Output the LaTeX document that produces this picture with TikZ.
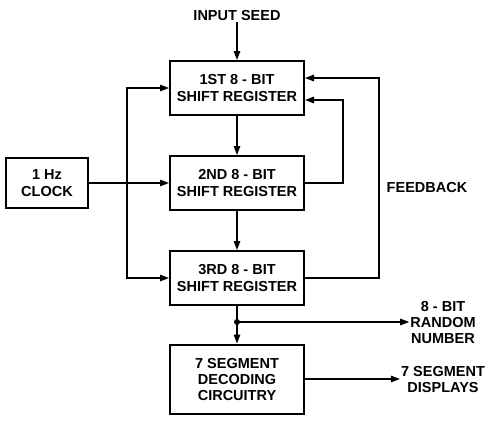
\documentclass[tikz,border=0pt]{standalone}
\usepackage{fontspec}
\setmainfont{Liberation Sans}
\usetikzlibrary{arrows.meta}

\begin{document}
\begin{tikzpicture}[x=1pt, y=-1pt,
                        every node/.style={font=\fontsize{14.5}{17}\selectfont\bfseries, align=center},
                        block/.style={draw, line width=2pt, minimum width=134pt, minimum height=54pt, inner sep=0pt},
                        label/.style={inner sep=1pt},
                        wire/.style={line width=1.3pt},
                        >={Triangle[length=9pt, width=6.5pt]}]
                        \useasboundingbox (0,0) rectangle (489,421);

                        \node[label] (seed) at (237,16) {INPUT SEED};
                        \node[block] (reg1) at (237,88) {1ST 8 - BIT\\SHIFT REGISTER};
                        \node[block] (reg2) at (237,183) {2ND 8 - BIT\\SHIFT REGISTER};
                        \node[block] (reg3) at (237,278) {3RD 8 - BIT\\SHIFT REGISTER};
                        \node[block, minimum width=82pt, minimum height=50pt] (clock) at (47,183) {1 Hz\\CLOCK};
                        \node[block, minimum height=69pt, font=\fontsize{14.5}{16}\selectfont\bfseries] (decode) at (237,379) {7 SEGMENT\\DECODING\\CIRCUITRY};

                        \node[label] (feedback) at (427,188) {FEEDBACK};
                        \node[label, font=\fontsize{14.5}{16}\selectfont\bfseries] (random) at (443,322) {8 - BIT\\RANDOM\\NUMBER};
                        \node[label, font=\fontsize{14.5}{16}\selectfont\bfseries] (displays) at (443,379) {7 SEGMENT\\DISPLAYS};

                        \coordinate (split) at (127,183);
                        \coordinate (tap) at (237,322);

                        \foreach \u/\v in {%
                            seed/reg1,
                            reg1/reg2,
                            reg2/reg3,
                            clock/reg2,
                            reg3/decode,
                            decode/displays%
                            }{
                            \draw[wire] (\u) edge[->] (\v);
                        }

                        \draw[wire, ->] (split) |- (reg1.west);
                        \draw[wire, ->] (split) |- (reg3.west);

                        % feedback loops
                        \draw[wire, ->] (reg2.east) -- ++(38,0) |- ([yshift=-12pt]reg1.east);
                        \draw[wire, ->] (reg3.east) -- ++(74,0) |- ([yshift=10pt]reg1.east);

                        \fill (tap) circle (3pt);
                        \draw[wire, ->] (tap) -- (random);

                    \end{tikzpicture}
\end{document}
